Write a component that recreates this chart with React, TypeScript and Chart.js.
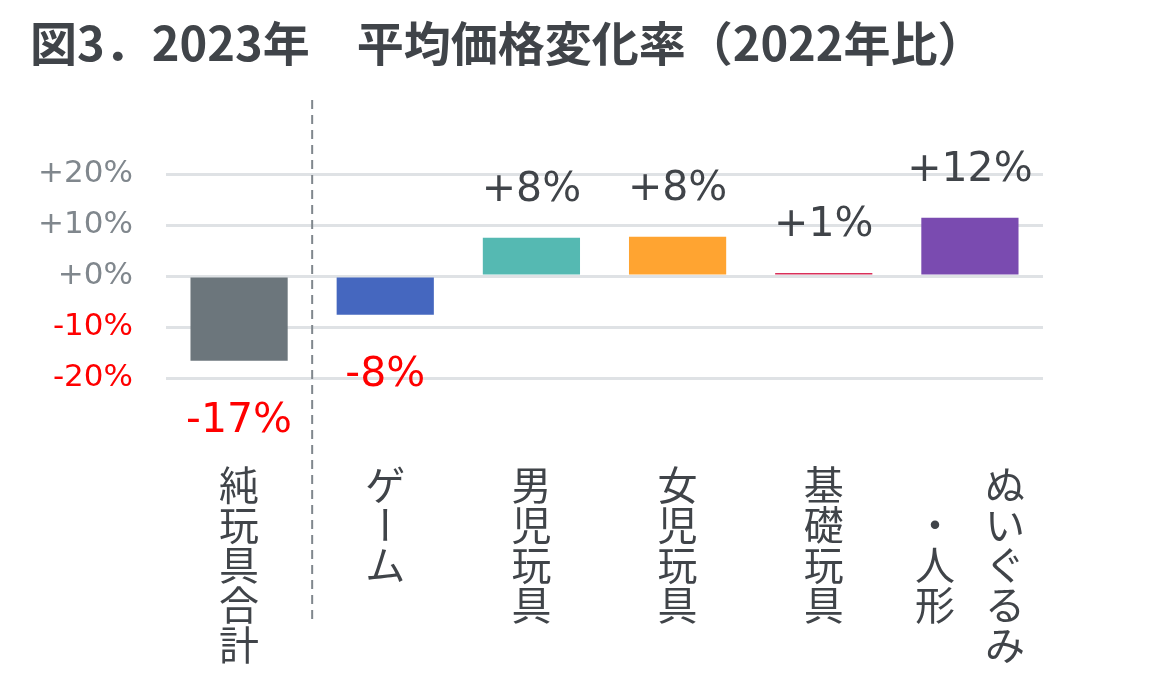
import { useEffect, useRef } from 'react';
import { Chart, registerables } from 'chart.js';

Chart.register(...registerables);

const titleText = '図3．2023年　平均価格変化率（2022年比）';
const categories = ['純玩具合計', 'ゲーム', '男児玩具', '女児玩具', '基礎玩具', 'ぬいぐるみ・人形'];
// vertical label columns, drawn right to left
const labelColumns = [['純玩具合計'], ['ゲーム'], ['男児玩具'], ['女児玩具'], ['基礎玩具'], ['ぬいぐるみ', '・人形']];
const changeRates = [-16.6, -7.6, 7.5, 7.7, 0.6, 11.4];
const valueLabels = ['-17%', '-8%', '+8%', '+8%', '+1%', '+12%'];
const barColors = ['#6c767c', '#4567bf', '#55b9b2', '#ffa431', '#d9305a', '#7a4bb0'];
const yTicks = [-20, -10, 0, 10, 20];

const DARK = '#404449';
const GRAY = '#80878d';
const RED = '#ff0000';
const LATIN = "'DejaVu Sans', 'Noto Sans CJK JP', sans-serif";
const CJK = "'Noto Sans CJK JP', 'DejaVu Sans', sans-serif";

const dividerPlugin = {
  id: 'divider',
  beforeDatasetsDraw(chart: any) {
    const x = chart.scales.x;
    const px = (x.getPixelForValue(0) + x.getPixelForValue(1)) / 2;
    const ctx = chart.ctx;
    ctx.save();
    ctx.strokeStyle = '#80878d';
    ctx.lineWidth = 2;
    ctx.setLineDash([9, 6]);
    ctx.beginPath();
    ctx.moveTo(px, 100);
    ctx.lineTo(px, 625);
    ctx.stroke();
    ctx.restore();
  },
};

const valueLabelPlugin = {
  id: 'valueLabels',
  afterDatasetsDraw(chart: any) {
    const ctx = chart.ctx;
    const meta = chart.getDatasetMeta(0);
    ctx.save();
    ctx.font = `41px ${LATIN}`;
    ctx.textAlign = 'center';
    ctx.textBaseline = 'alphabetic';
    meta.data.forEach((bar: any, i: number) => {
      const neg = changeRates[i] < 0;
      ctx.fillStyle = neg ? RED : DARK;
      ctx.fillText(valueLabels[i], bar.x, neg ? bar.y + 71 : bar.y - 37);
    });
    ctx.restore();
  },
};

const verticalLabelPlugin = {
  id: 'verticalLabels',
  afterDraw(chart: any) {
    const ctx = chart.ctx;
    const x = chart.scales.x;
    const cell = 40;
    const top = 465;
    ctx.save();
    ctx.font = `40px ${CJK}`;
    ctx.fillStyle = DARK;
    ctx.textAlign = 'center';
    ctx.textBaseline = 'middle';
    labelColumns.forEach((cols, i) => {
      const cx = x.getPixelForValue(i);
      const longest = Math.max(...cols.map((c) => c.length));
      cols.forEach((col, j) => {
        const colX = cx + ((cols.length - 1) / 2 - j) * 70;
        const offset = cols.length > 1 ? ((longest - col.length) / 2) * cell : 0;
        Array.from(col).forEach((ch, k) => {
          const cy = top + offset + cell / 2 + k * cell;
          if (ch === 'ー') {
            ctx.save();
            ctx.translate(colX, cy);
            ctx.rotate(Math.PI / 2);
            ctx.fillText(ch, 0, 0);
            ctx.restore();
          } else {
            ctx.fillText(ch, colX, cy);
          }
        });
      });
    });
    ctx.restore();
  },
};

export default function App() {
  const canvasRef = useRef<HTMLCanvasElement>(null);

  useEffect(() => {
    document.body.style.margin = '0';
    if (!canvasRef.current) return;
    const chart = new Chart(canvasRef.current, {
      type: 'bar',
      data: {
        labels: categories,
        datasets: [
          {
            data: changeRates,
            backgroundColor: barColors,
            categoryPercentage: 1,
            barPercentage: 0.665,
          },
        ],
      },
      options: {
        animation: false,
        responsive: true,
        maintainAspectRatio: false,
        layout: { padding: { left: 30, right: 126, top: 0, bottom: 298 } },
        plugins: {
          legend: { display: false },
          tooltip: { enabled: false },
          title: {
            display: true,
            text: titleText,
            align: 'start',
            color: DARK,
            font: { family: CJK, size: 47, weight: 'bold', lineHeight: 1.2 },
            padding: { top: 15, bottom: 102.6 },
          },
        },
        scales: {
          x: { display: false },
          y: {
            min: -20,
            max: 20,
            afterBuildTicks: (scale: any) => {
              scale.ticks = yTicks.map((v) => ({ value: v }));
            },
            afterFit: (scale: any) => {
              scale.width = 136;
            },
            border: { display: false },
            grid: { color: '#dfe2e5', lineWidth: 3, drawTicks: false },
            ticks: {
              padding: 33,
              font: { family: LATIN, size: 31 },
              color: (c: any) => (c.tick && c.tick.value < 0 ? RED : GRAY),
              callback: (v: any) => (v >= 0 ? '+' : '') + v + '%',
            },
          },
        },
      },
      plugins: [dividerPlugin, valueLabelPlugin, verticalLabelPlugin],
    });
    return () => chart.destroy();
  }, []);

  return (
    <div style={{ position: 'relative', width: 1169, height: 676, background: '#fff' }}>
      <canvas ref={canvasRef} />
    </div>
  );
}
